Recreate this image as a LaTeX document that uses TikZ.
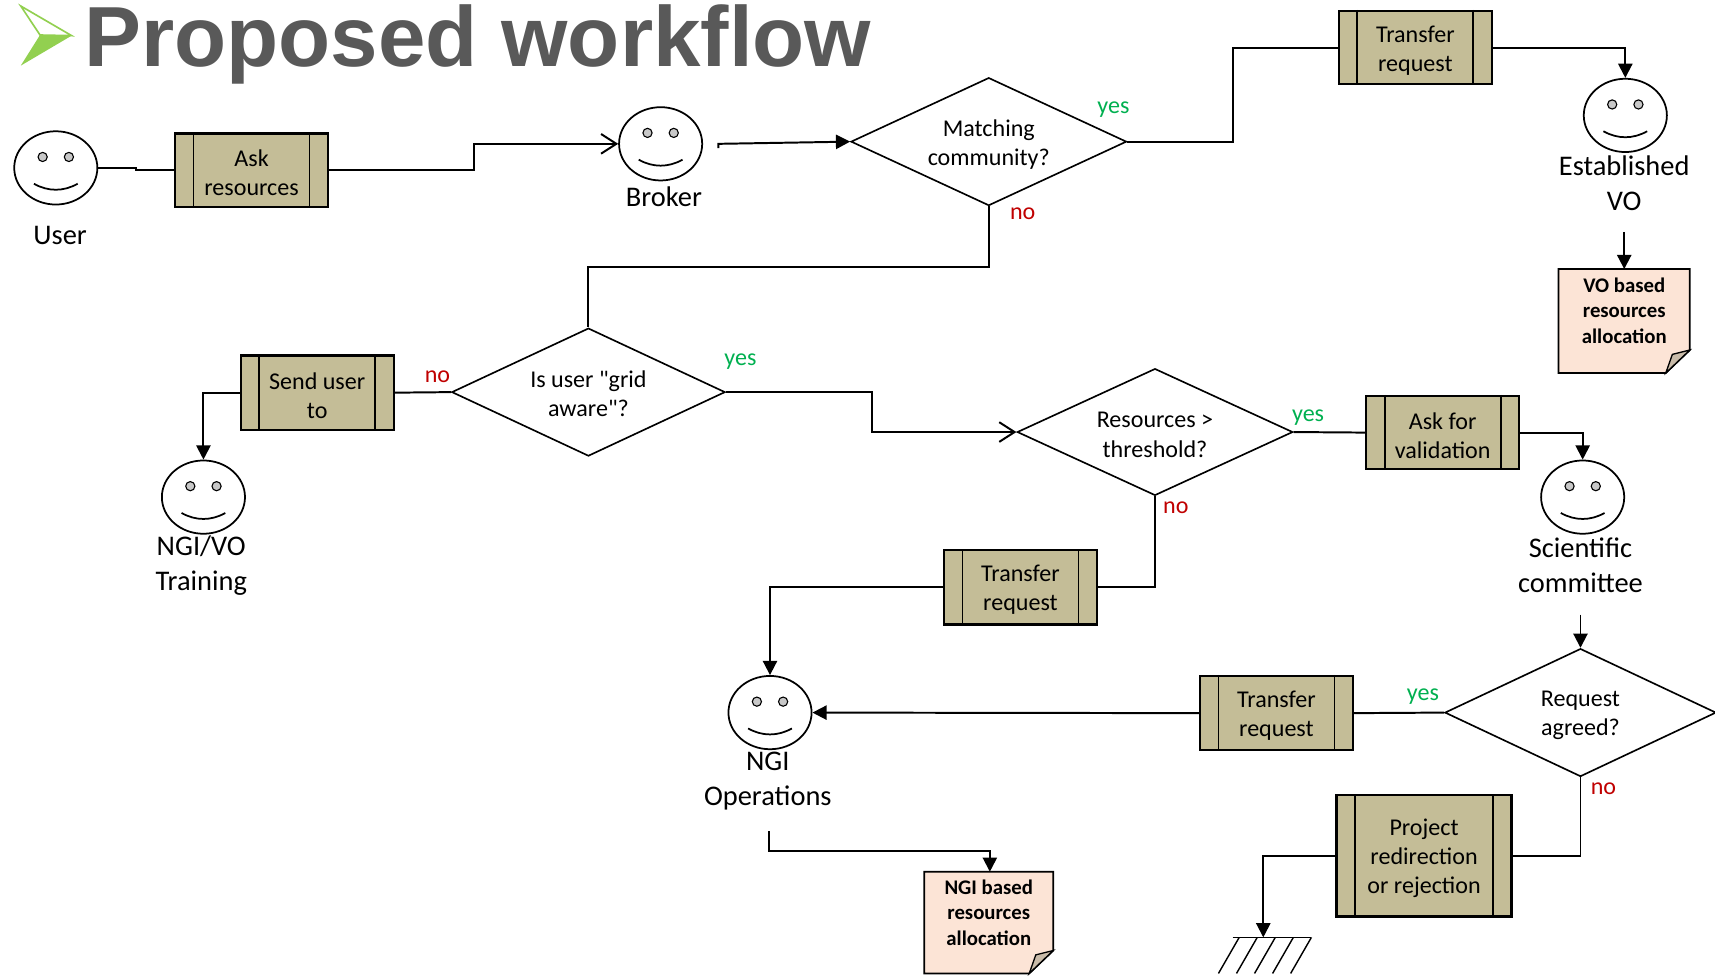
\documentclass[tikz,border=0pt]{standalone}
\usepackage{fontspec}
\setmainfont{Carlito}[Ligatures=TeXOff]
\newfontfamily\titlefont{Liberation Sans}
\usetikzlibrary{shapes.geometric,arrows.meta,calc}
\definecolor{boxfill}{HTML}{C4BD97}
\definecolor{notefill}{HTML}{FCE4D6}
\definecolor{foldfill}{HTML}{C9BBA9}
\definecolor{yesgreen}{HTML}{00B050}
\definecolor{nored}{HTML}{C00000}
\definecolor{titlegray}{HTML}{595959}
\definecolor{icongreen}{HTML}{92D050}
\definecolor{eyegray}{HTML}{C8C8C8}
\newcommand\mkface[3]{%
  \node[facebox] (#1) at (#2,#3) {};
  \draw[line width=1pt,fill=eyegray] ($(#1.center)+(-12,-10)$) circle[radius=4.2pt];
  \draw[line width=1pt,fill=eyegray] ($(#1.center)+(12,-10)$) circle[radius=4.2pt];
  \draw[line width=1.6pt] ($(#1.center)+(-20,14.5)$) .. controls ($(#1.center)+(-7,21.8)$) and ($(#1.center)+(7,21.8)$) .. ($(#1.center)+(20,14.5)$);
}
\newcommand\mkbars[1]{%
  \draw[line width=1.6pt] ([xshift=18pt]#1.north west) -- ([xshift=18pt]#1.south west);
  \draw[line width=1.6pt] ([xshift=-18pt]#1.north east) -- ([xshift=-18pt]#1.south east);
}
\begin{document}
\begin{tikzpicture}[x=1pt,y=-1pt,
  procbox/.style={draw=black,fill=boxfill,line width=2pt,minimum width=140pt,minimum height=67pt,inner sep=0pt},
  boxtext/.style={inner sep=0pt,align=center,yshift=-2.5pt,font=\fontsize{22}{26.5}\selectfont},
  decision/.style={draw=black,line width=1.5pt,shape=diamond,aspect=2.15,inner sep=0pt},
  dectext/.style={inner sep=0pt,align=center,yshift=-2.5pt,font=\fontsize{22}{27}\selectfont},
  facebox/.style={draw=black,line width=1.6pt,ellipse,minimum width=76pt,minimum height=67pt,inner sep=0pt},
  facelbl/.style={inner sep=0pt,align=center,font=\fontsize{26}{32}\selectfont},
  notetext/.style={inner sep=0pt,align=center,font=\bfseries\fontsize{19}{23}\selectfont},
  notebody/.style={draw=black,fill=notefill,line width=1.6pt},
  notefold/.style={draw=black,fill=foldfill,line width=1.2pt},
  yeslbl/.style={text=yesgreen,inner sep=0pt,font=\fontsize{22}{26}\selectfont},
  nolbl/.style={text=nored,inner sep=0pt,font=\fontsize{22}{26}\selectfont},
  conn/.style={line width=1.8pt,draw=black},
  filledtip/.style={-{Triangle[length=13pt,width=13pt]}},
  opentip/.style={-{Straight Barb[length=14pt,width=18pt]}},
]
\useasboundingbox (0,0) rectangle (1568,892);
\fill[white] (0,0) rectangle (1568,892);

% title
\draw[icongreen,line width=1.5pt,line join=miter] (19,5.5) -- (65.5,32.6) -- (36.6,32) -- cycle;
\fill[icongreen] (36.6,32) -- (65.5,32.6) -- (19,60) -- cycle;
\node[anchor=base west,inner sep=0pt,text=titlegray,font=\titlefont\bfseries\fontsize{78}{80}\selectfont] (title) at (77,61) {Proposed workflow};

% faces
\mkface{user}{51}{153.5}
\mkface{broker}{604}{131.5}
\mkface{vo}{1486}{105.5}
\mkface{ngivo}{186}{454.5}
\mkface{sci}{1447}{454.5}
\mkface{ngi}{704}{651.5}

\node[facelbl] (userlbl) at (55,215) {User};
\node[facelbl] (brokerlbl) at (607,180) {Broker};
\node[facelbl] (volbl) at (1485,167.5) {Established\\VO};
\node[facelbl] (ngivolbl) at (184,517) {NGI/VO\\Training};
\node[facelbl] (scilbl) at (1445,517) {Scientific\\committee};
\node[facelbl] (ngilbl) at (702,714) {NGI\\Operations};

% process boxes
\node[procbox,label={[boxtext]center:{Ask\\resources}}] (ask) at (230,155.5) {}; \mkbars{ask}
\node[procbox,label={[boxtext]center:{Transfer\\request}}] (tr1) at (1294,43.5) {}; \mkbars{tr1}
\node[procbox,minimum height=68pt,label={[boxtext]center:{Send user\\to}}] (send) at (290,359) {}; \mkbars{send}
\node[procbox,label={[boxtext]center:{Ask for\\validation}}] (val) at (1319,395.5) {}; \mkbars{val}
\node[procbox,minimum height=68pt,label={[boxtext]center:{Transfer\\request}}] (tr2) at (933,537) {}; \mkbars{tr2}
\node[procbox,minimum height=68pt,label={[boxtext]center:{Transfer\\request}}] (tr3) at (1167,652) {}; \mkbars{tr3}
\node[procbox,minimum width=160pt,minimum height=111pt,label={[boxtext,yshift=0.5pt]center:{Project\\redirection\\or rejection}}] (proj) at (1302,782.5) {}; \mkbars{proj}

% decisions
\node[decision,minimum width=252pt,minimum height=117pt,label={[dectext]center:{Matching\\community?}}] (match) at (904,129.5) {};
\node[decision,minimum width=250pt,minimum height=117pt,label={[dectext,yshift=1pt]center:{Is user "grid\\aware"?}}] (grid) at (538,358.5) {};
\node[decision,minimum width=252pt,minimum height=116pt,label={[dectext]center:{Resources >\\threshold?}}] (thr) at (1056,395) {};
\node[decision,minimum width=248pt,minimum height=117pt,label={[dectext]center:{Request\\agreed?}}] (agr) at (1445,651.5) {};

\node[yeslbl] (y1) at (1018,100) {yes};
\node[nolbl] (n1) at (935,195.5) {no};
\node[yeslbl] (y2) at (677,331) {yes};
\node[nolbl] (n2) at (400,344.5) {no};
\node[yeslbl] (y3) at (1196,382) {yes};
\node[nolbl] (n3) at (1075,464.5) {no};
\node[yeslbl] (y4) at (1301,637) {yes};
\node[nolbl] (n4) at (1466,721.5) {no};

% notes
\path[notebody] (1425,246) -- (1545,246) -- (1545,320) -- (1523,341) -- (1425,341) -- cycle;
\path[notefold] (1545,320) -- (1523,341) -- (1529,324) -- cycle;
\node[notetext] (vonote) at (1485,284) {VO based\\resources\\allocation};
\coordinate (vonotetop) at (1485,246);

\path[notebody] (845,797) -- (963,797) -- (963,869) -- (941,890) -- (845,890) -- cycle;
\path[notefold] (963,869) -- (941,890) -- (947,873) -- cycle;
\node[notetext] (nginote) at (904,834.5) {NGI based\\resources\\allocation};
\coordinate (nginotetop) at (905,797);

% ground
\coordinate (gnd) at (1155,857);
\draw[line width=1.5pt] (1127,857) -- (1199,857);
\foreach \i in {0,...,4} {
  \draw[line width=1.3pt] (1133+16.5*\i,857) -- (1114+16.5*\i,890);
}

% helper coordinates
\coordinate (vodn) at (1485,212);
\coordinate (scidn) at (1445,562);
\coordinate (ngidn) at (703,760);

% connectors
\draw[conn] (user.east) -- (124,153.5) -- (124,155.5) -- (ask.west);
\draw[conn,opentip] (ask.east) -- (433,155.5) -- (433,131.5) -- (broker.west);
\draw[conn,filledtip] ([xshift=14pt,yshift=-4pt]broker.east) -- ([xshift=14pt]broker.east) -- (match.west);
\draw[conn] (match.east) -- (1127,129.5) -- (1127,43.5) -- (tr1.west);
\draw[conn,filledtip] (tr1.east) -| (vo.north);
\draw[conn,filledtip] (vodn) -- (vonotetop);
\draw[conn] (match.south) -- (904,244) -- (538,244) -- (grid.north);
\draw[conn] (grid.west) -- (send.east);
\draw[conn,filledtip] (send.west) -| (ngivo.north);
\draw[conn,opentip] (grid.east) -- (797,358.5) -- (797,395) -- (thr.west);
\draw[conn] (thr.east) -- (val.west);
\draw[conn,filledtip] (val.east) -| (sci.north);
\draw[conn,filledtip] (scidn) -- (agr.north);
\draw[conn] (thr.south) |- (tr2.east);
\draw[conn,filledtip] (tr2.west) -| (ngi.north);
\draw[conn] (agr.west) -- (tr3.east);
\draw[conn,filledtip] (tr3.west) -- (ngi.east);
\draw[conn] (agr.south) |- (proj.east);
\draw[conn,filledtip] (proj.west) -| (gnd);
\draw[conn,filledtip] (ngidn) |- (905,778) -- (nginotetop);
\end{tikzpicture}
\end{document}
